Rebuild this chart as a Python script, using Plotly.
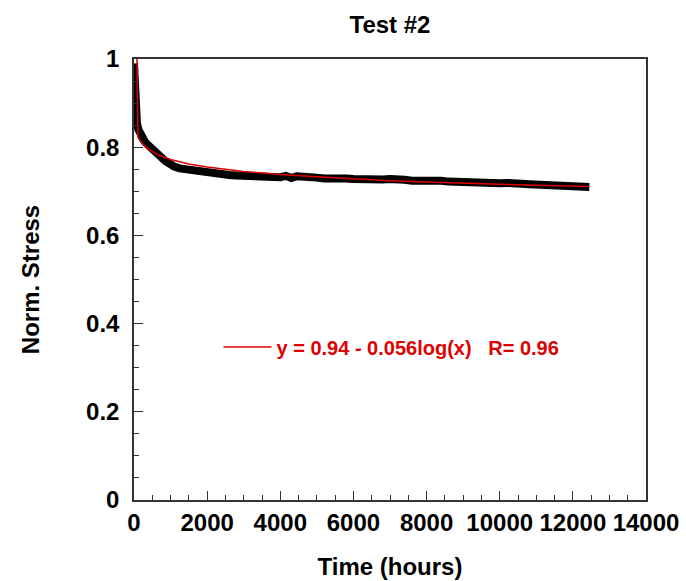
import plotly.graph_objects as go

# Measured data (black band)
time_h = [0, 10, 25, 50, 80, 120, 170, 230, 300, 380, 460, 550, 650, 750, 850, 950,
          1100, 1250, 1400, 1600, 1800, 2000, 2200, 2400, 2600, 2800, 3000, 3200,
          3400, 3600, 3800, 4000, 4150, 4300, 4450, 4600, 4800, 5000, 5200, 5400,
          5600, 5800, 6000, 6200, 6400, 6600, 6800, 7000, 7200, 7400, 7600, 7800,
          8000, 8200, 8400, 8600, 8800, 9000, 9200, 9400, 9600, 9800, 10000, 10200,
          10400, 10600, 10800, 11000, 11200, 11400, 11600, 11800, 12000, 12200, 12450]
stress = [0.99, 0.95, 0.91, 0.875, 0.855, 0.84, 0.83, 0.82, 0.812, 0.805, 0.80, 0.793,
          0.785, 0.777, 0.769, 0.762, 0.756, 0.752, 0.750, 0.747, 0.745, 0.743, 0.741,
          0.739, 0.737, 0.736, 0.735, 0.734, 0.734, 0.733, 0.733, 0.732, 0.735, 0.730,
          0.734, 0.732, 0.730, 0.731, 0.729, 0.730, 0.728, 0.729, 0.728, 0.727, 0.728,
          0.726, 0.727, 0.728, 0.725, 0.726, 0.724, 0.725, 0.724, 0.723, 0.724, 0.722,
          0.721, 0.722, 0.720, 0.719, 0.718, 0.719, 0.718, 0.719, 0.720, 0.717, 0.716,
          0.715, 0.714, 0.714, 0.713, 0.712, 0.712, 0.711, 0.710]

# Fit curve (red)
fit_time = [80, 110, 200, 400, 700, 1000, 1500, 2000, 3000, 4000, 5000, 6000, 7000,
            8000, 9000, 10000, 11000, 12450]
fit_stress = [1.0, 0.822, 0.810, 0.795, 0.781, 0.772, 0.762, 0.755, 0.745, 0.738,
              0.733, 0.728, 0.724, 0.721, 0.718, 0.716, 0.714, 0.711]

fit_label = "y = 0.94 - 0.056log(x)\u00a0\u00a0\u00a0R= 0.96"

FONT = "Liberation Sans, Arial, sans-serif"

fig = go.Figure()
fig.add_trace(go.Scatter(x=time_h, y=stress, mode="lines",
                         line=dict(color="black", width=8), showlegend=False))
fig.add_trace(go.Scatter(x=fit_time, y=fit_stress, mode="lines",
                         line=dict(color="#e00000", width=1.5), name=fit_label,
                         showlegend=True))

axis_common = dict(showline=True, linecolor="#333333", linewidth=1.5, mirror=True,
                   ticks="inside", ticklen=9, tickwidth=1.2, tickcolor="#333333",
                   showgrid=False, zeroline=False,
                   automargin=False,
                   tickfont=dict(family=FONT, size=24, color="black", weight="bold"),
                   title_font=dict(family=FONT, size=24, color="black", weight="bold"))

fig.update_xaxes(range=[0, 14000], dtick=2000, tick0=0, tickformat="d",
                 ticklabelstandoff=0,
                 minor=dict(dtick=500, ticks="inside", ticklen=5, tickcolor="#333333",
                            tickwidth=1.2),
                 title_text="Time (hours)", title_standoff=24, **axis_common)
fig.update_yaxes(range=[0, 1], dtick=0.2, tick0=0, ticklabelstandoff=8,
                 minor=dict(dtick=0.05, ticks="inside", ticklen=5, tickcolor="#333333",
                            tickwidth=1.2),
                 title_text="Norm. Stress", title_standoff=40, **axis_common)

fig.update_layout(
    width=686, height=581,
    margin=dict(l=134, r=40, t=59, b=81),
    paper_bgcolor="white", plot_bgcolor="white",
    title=dict(text="Test #2", x=0.5, xanchor="center", xref="paper", y=0.957,
               yanchor="middle",
               font=dict(family=FONT, size=24, color="black", weight="bold")),
    legend=dict(x=0.165, y=0.347, xanchor="left", yanchor="middle", itemwidth=48,
                bgcolor="rgba(0,0,0,0)",
                font=dict(family=FONT, size=20, color="#e00000", weight="bold")),
)

fig.write_html("out.html")
